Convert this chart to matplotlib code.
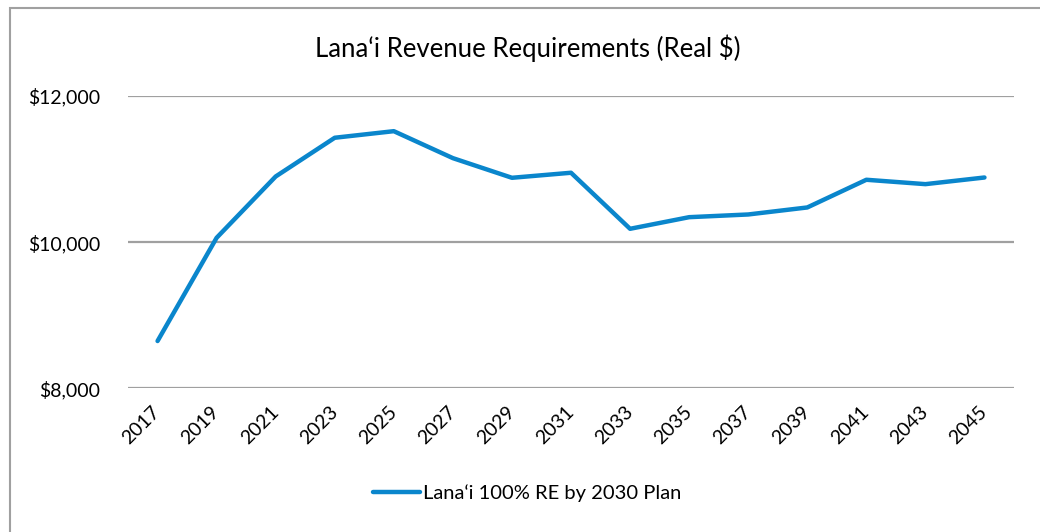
import matplotlib
matplotlib.use("Agg")
from matplotlib import pyplot as plt
from matplotlib.patches import Rectangle
from matplotlib.ticker import FuncFormatter

years = [2017, 2019, 2021, 2023, 2025, 2027, 2029, 2031,
         2033, 2035, 2037, 2039, 2041, 2043, 2045]
revenue = [8647, 10060, 10899, 11429, 11519, 11150, 10881, 10950,
           10183, 10342, 10379, 10475, 10854, 10794, 10885]
series_name = "Lana\u2018i 100% RE by 2030 Plan"
title = "Lana\u2018i Revenue Requirements (Real $)"

plt.rcParams['font.family'] = ['Lato', 'DejaVu Sans']

fig = plt.figure(figsize=(10.4, 5.32), dpi=100)
ax = fig.add_axes([0.1231, 0.2701, 0.8519, 0.5494])

x = list(range(len(years)))
ax.plot(x, revenue, color='#0A86CC', linewidth=3.2, solid_capstyle='round',
        solid_joinstyle='round', label=series_name)

ax.set_xlim(-0.5, len(years) - 0.5)
ax.set_ylim(8000, 12000)
ax.set_yticks([8000, 10000, 12000])
ax.yaxis.set_major_formatter(FuncFormatter(lambda v, p: '${:,.0f}'.format(v)))
ax.set_xticks(x)
ax.set_xticklabels([str(y) for y in years], rotation=45, ha='right',
                   va='center', rotation_mode='anchor')

ax.grid(axis='y', color='#A0A0A0', linewidth=1.6)
ax.set_axisbelow(True)
for s in ax.spines.values():
    s.set_visible(False)
ax.tick_params(axis='both', length=0, labelsize=14, colors='black')
ax.tick_params(axis='y', pad=20)
ax.tick_params(axis='x', pad=15)

fig.text(0.507, 0.91, title, ha='center', va='center', fontsize=18.5)

leg = fig.legend(loc='center', bbox_to_anchor=(0.507, 0.073), frameon=False,
                 fontsize=14.5, handlelength=2.3, handletextpad=0.15)

# chart area border (right and bottom edges run off the image)
fig.patches.append(Rectangle((10 / 1040, -0.05), 1.1, 1 - 8 / 532 + 0.05,
                             transform=fig.transFigure, fill=False,
                             edgecolor='#A0A0A0', linewidth=1.5))

fig.savefig('out.png', dpi=100)
